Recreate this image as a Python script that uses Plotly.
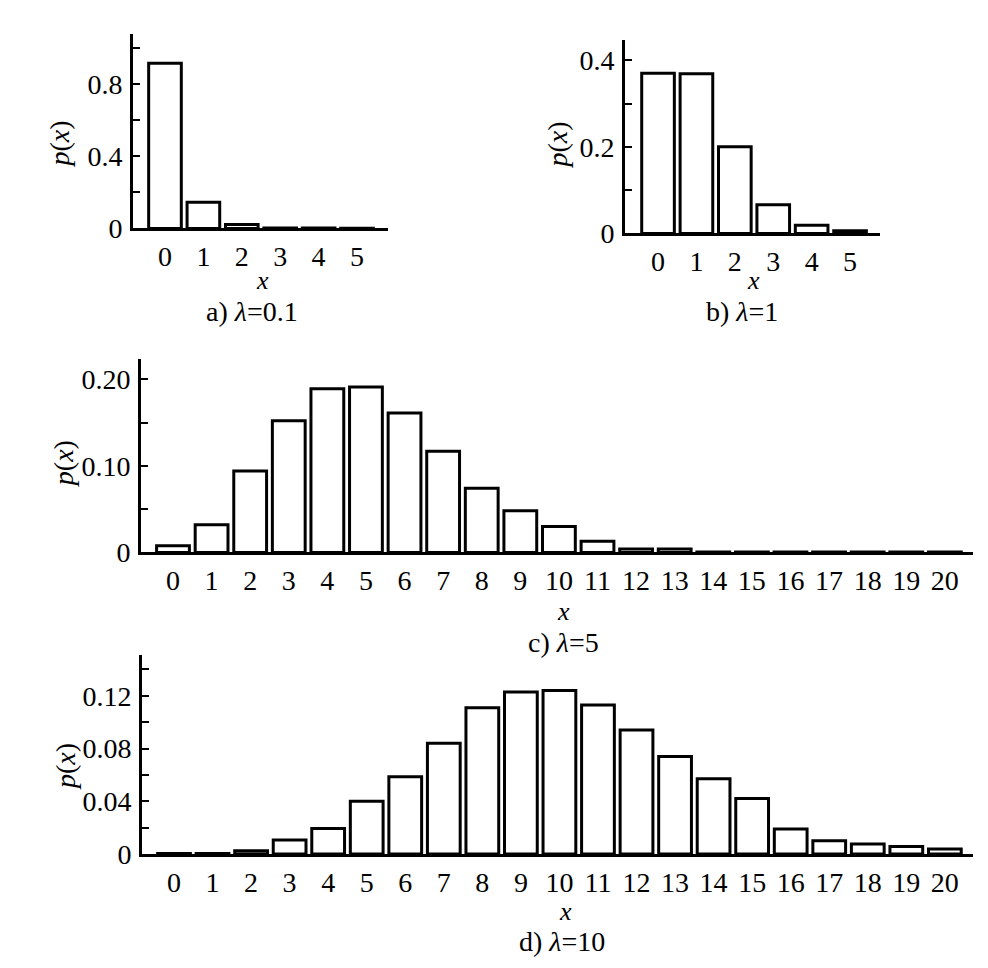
import plotly.graph_objects as go

# ---- data ----
x_a = [0, 1, 2, 3, 4, 5]
p_a = [0.916, 0.145, 0.022, 0.003, 0.002, 0.001]

x_b = [0, 1, 2, 3, 4, 5]
p_b = [0.370, 0.369, 0.200, 0.066, 0.019, 0.006]

x_c = list(range(21))
p_c = [0.0076, 0.032, 0.094, 0.152, 0.189, 0.191, 0.161, 0.117, 0.074, 0.048,
       0.030, 0.013, 0.004, 0.004, 0.0006, 0.0005, 0.0005, 0.0005, 0.0005, 0.0004, 0.0004]

x_d = list(range(21))
p_d = [0.0003, 0.0003, 0.0025, 0.0105, 0.0194, 0.040, 0.0585, 0.084, 0.111, 0.123,
       0.124, 0.113, 0.094, 0.074, 0.057, 0.042, 0.019, 0.010, 0.0075, 0.0057, 0.0037]

ytick_a = [0, 0.2, 0.4, 0.6, 0.8, 1.0]
ylab_a = ["0", "", "0.4", "", "0.8", ""]
ytick_b = [0, 0.1, 0.2, 0.3, 0.4]
ylab_b = ["0", "", "0.2", "", "0.4"]
ytick_c = [0, 0.05, 0.10, 0.15, 0.20]
ylab_c = ["0", "", "0.10", "", "0.20"]
ytick_d = [0, 0.02, 0.04, 0.06, 0.08, 0.10, 0.12, 0.14]
ylab_d = ["0", "", "0.04", "", "0.08", "", "0.12", ""]

captions = ["a) <i>λ</i>=0.1", "b) <i>λ</i>=1", "c) <i>λ</i>=5", "d) <i>λ</i>=10"]

W, H = 988, 968
FONT = "Liberation Serif"
FS = 28

def px(x):
    return x / W

def py(y):
    return 1 - y / H

fig = go.Figure()

panels = [
    (x_a, p_a, (133, 388), (35, 232.3), (-0.833, 5.807), (0, 1.076), ytick_a, ylab_a),
    (x_b, p_b, (625, 880), (40.7, 237.3), (-0.86, 5.78), (0, 0.447), ytick_b, ylab_b),
    (x_c, p_c, (141, 973), (365, 561.7), (-0.829, 20.73), (0, 0.2235), ytick_c, ylab_c),
    (x_d, p_d, (142, 973), (666, 868.3), (-0.83, 20.73), (0, 0.151), ytick_d, ylab_d),
]

layout = dict(
    width=W, height=H,
    margin=dict(l=0, r=0, t=0, b=0),
    paper_bgcolor="white", plot_bgcolor="white",
    showlegend=False,
    font=dict(family=FONT, size=FS, color="black"),
)

for i, (xs, ps, xd, yd, xr, yr, ytv, ytt) in enumerate(panels):
    n = "" if i == 0 else str(i + 1)
    fig.add_trace(go.Bar(
        x=xs, y=ps, width=0.85,
        marker=dict(color="white", line=dict(color="black", width=3)),
        xaxis="x" + n, yaxis="y" + n,
    ))
    layout["xaxis" + n] = dict(
        domain=[px(xd[0]), px(xd[1])], range=list(xr), anchor="y" + n,
        tickmode="array", tickvals=xs, ticktext=[str(v) for v in xs],
        showline=True, linecolor="black", linewidth=3, ticks="",
        showgrid=False, zeroline=False, ticklabelstandoff=1,
        tickfont=dict(family=FONT, size=FS),
    )
    layout["yaxis" + n] = dict(
        domain=[py(yd[1]), py(yd[0])], range=list(yr), anchor="x" + n,
        tickmode="array", tickvals=ytv, ticktext=ytt,
        showline=True, linecolor="black", linewidth=3,
        ticks="inside", ticklen=7, tickwidth=2, tickcolor="black",
        showgrid=False, zeroline=False, ticklabelstandoff=2,
        tickfont=dict(family=FONT, size=FS),
    )

ann = []
plab = [(60, 147), (558, 148), (63, 472), (65, 780)]
xlab = [(262, 285), (753, 285), (563, 622), (565, 927)]
cap = [(252, 317), (742, 317), (563, 653), (562, 957)]
for i in range(4):
    ann.append(dict(x=px(plab[i][0]), y=py(plab[i][1]), xref="paper", yref="paper",
                    text="<i>p</i>(<i>x</i>)", textangle=-90, showarrow=False,
                    xanchor="center", yanchor="middle", font=dict(size=FS)))
    ann.append(dict(x=px(xlab[i][0]), y=py(xlab[i][1]), xref="paper", yref="paper",
                    text="<i>x</i>", showarrow=False,
                    xanchor="center", yanchor="middle", font=dict(size=26)))
    ann.append(dict(x=px(cap[i][0]), y=py(cap[i][1]), xref="paper", yref="paper",
                    text=captions[i], showarrow=False,
                    xanchor="center", yanchor="middle", font=dict(size=FS)))
layout["annotations"] = ann

fig.update_layout(**layout)
fig.write_html("out.html")
